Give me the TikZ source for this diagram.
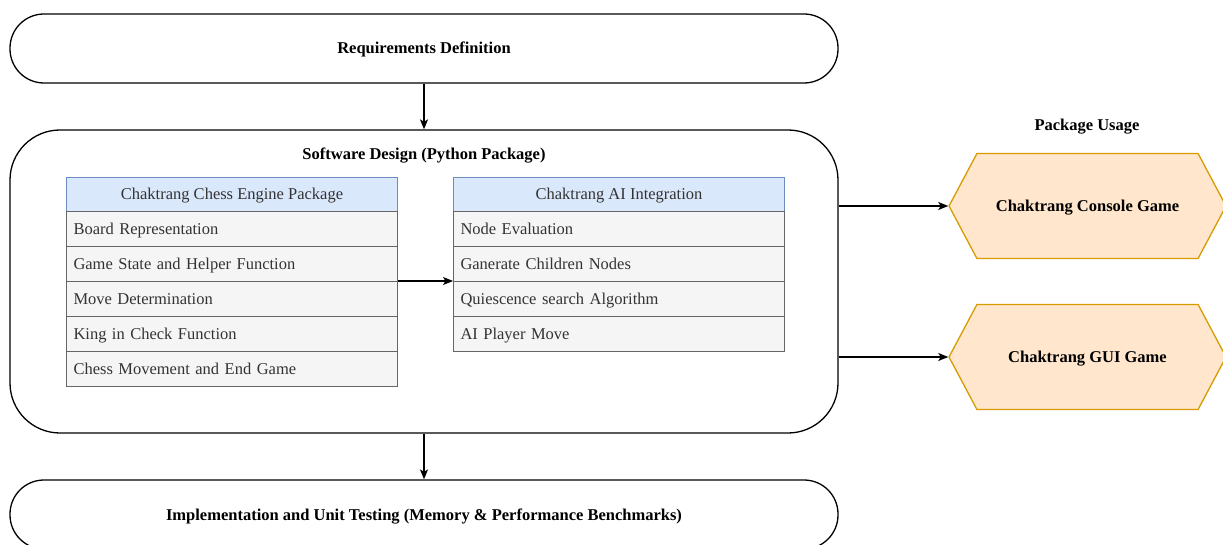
\documentclass[tikz,border=0pt]{standalone}
\usepackage{fontspec}
\setmainfont{Liberation Serif}
\usetikzlibrary{arrows.meta,shapes.symbols}
\definecolor{hdrfill}{HTML}{DAE8FC}
\definecolor{hdrline}{HTML}{6C8EBF}
\definecolor{rowfill}{HTML}{F5F5F5}
\definecolor{rowline}{HTML}{666666}
\definecolor{rowtext}{HTML}{333333}
\definecolor{hexfill}{HTML}{FFE6CC}
\definecolor{hexline}{HTML}{D79B00}
\newcommand{\fsz}{\fontsize{16.5}{19}\selectfont}
\tikzset{
  txt/.style={text height=11pt, text depth=0pt},
  stage/.style={draw=black, line width=1.3pt, rounded corners=34pt, minimum width=828pt, minimum height=69pt, font=\fsz\bfseries, inner sep=0pt, txt},
  bigbox/.style={draw=black, line width=1.3pt, rounded corners=50pt, minimum width=828pt, minimum height=303pt, inner sep=0pt},
  hdrcell/.style={draw=hdrline, fill=hdrfill, line width=1pt, minimum width=331pt, minimum height=34pt, font=\fsz, text=rowtext, inner sep=0pt, anchor=north west, txt},
  rowcell/.style={draw=rowline, fill=rowfill, line width=1pt, minimum width=331pt, minimum height=35pt, font=\fsz, text=rowtext, inner xsep=7pt, inner ysep=0pt, text width=317pt, align=left, anchor=north west, txt},
  hexnode/.style={shape=signal, signal to=east and west, signal pointer angle=124, draw=hexline, fill=hexfill, line width=1.3pt, minimum width=277pt, minimum height=105pt, font=\fsz\bfseries, inner sep=0pt, txt},
  titletext/.style={font=\fsz\bfseries, inner sep=0pt, txt},
  conn/.style={line width=1.3pt, -{Stealth[length=10pt,width=8pt,inset=2.5pt]}}
}
\begin{document}
\begin{tikzpicture}[x=1pt,y=-1pt]
\useasboundingbox (0,0) rectangle (1223,545);
\clip (0,0) rectangle (1223,545);
% stages
\node[stage] (req) at (424,48.5) {Requirements Definition};
\node[bigbox] (design) at (424,281.5) {};
\node[titletext] (designtitle) at (424,154) {Software Design (Python Package)};
\node[stage] (impl) at (424,514.5) {Implementation and Unit Testing (Memory \& Performance Benchmarks)};
% left table
\node[hdrcell] (engine) at (66,177) {Chaktrang Chess Engine Package};
\node[rowcell] (e1) at (66,211) {Board Representation};
\node[rowcell] (e2) at (66,246) {Game State and Helper Function};
\node[rowcell] (e3) at (66,281) {Move Determination};
\node[rowcell] (e4) at (66,316) {King in Check Function};
\node[rowcell] (e5) at (66,351) {Chess Movement and End Game};
% right table
\node[hdrcell] (ai) at (453,177) {Chaktrang AI Integration};
\node[rowcell] (a1) at (453,211) {Node Evaluation};
\node[rowcell] (a2) at (453,246) {Ganerate Children Nodes};
\node[rowcell] (a3) at (453,281) {Quiescence search Algorithm};
\node[rowcell] (a4) at (453,316) {AI Player Move};
% package usage
\node[titletext] (usage) at (1087,125) {Package Usage};
\node[hexnode] (console) at (1087.5,206) {Chaktrang Console Game};
\node[hexnode] (gui) at (1087.5,357) {Chaktrang GUI Game};
% connectors
\draw[conn] (req.south) -- (design.north);
\draw[conn] (design.south) -- (impl.north);
\draw[conn] (e3.north east) -- (a3.north west);
\draw[conn] (design.east |- console.west) -- (console.west);
\draw[conn] (design.east |- gui.west) -- (gui.west);
\end{tikzpicture}
\end{document}
